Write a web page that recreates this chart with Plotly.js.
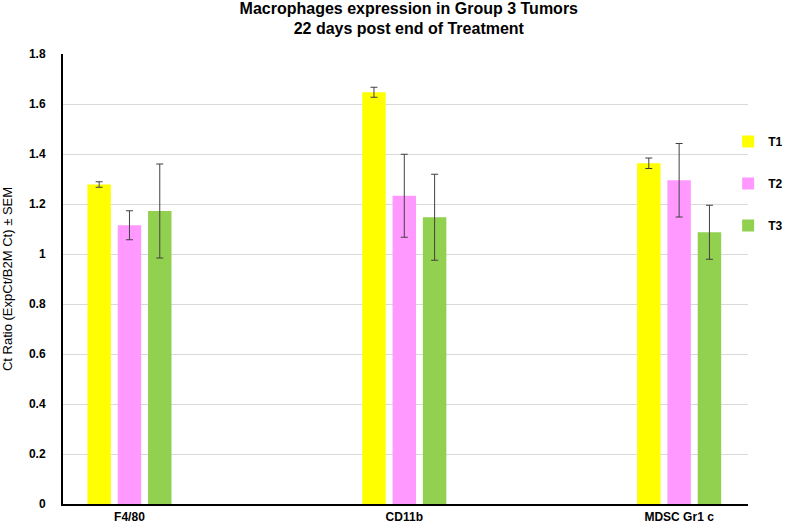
<!DOCTYPE html>
<html>
<head>
<meta charset="utf-8">
<script src="https://cdn.plot.ly/plotly-3.0.1.min.js"></script>
<style>html,body{margin:0;padding:0;background:#fff;}#chart{width:800px;height:524px;}</style>
</head>
<body>
<div id="chart"></div>
<script>
const categories = ["F4/80", "CD11b", "MDSC Gr1 c"];
const seriesNames = ["T1", "T2", "T3"];
const t1Values = [1.278, 1.647, 1.363];
const t1Errors = [0.011, 0.020, 0.021];
const t2Values = [1.115, 1.233, 1.295];
const t2Errors = [0.058, 0.166, 0.147];
const t3Values = [1.172, 1.147, 1.087];
const t3Errors = [0.188, 0.172, 0.108];
const yTickVals = [0, 0.2, 0.4, 0.6, 0.8, 1, 1.2, 1.4, 1.6, 1.8];
const yTickText = ["0", "0.2", "0.4", "0.6", "0.8", "1", "1.2", "1.4", "1.6", "1.8"];

const colors = ["#ffff00", "#ff99ff", "#92d050"];
const vals = [t1Values, t2Values, t3Values];
const errs = [t1Errors, t2Errors, t3Errors];

const traces = seriesNames.map((n, i) => ({
  type: "bar",
  name: n,
  legendgroup: n,
  x: categories,
  y: vals[i],
  marker: {color: colors[i], line: {width: 0}},
  error_y: {type: "data", array: errs[i], visible: true, color: "#404040", thickness: 1, width: 3.5},
  hoverinfo: "none"
}));

const layout = {
  width: 800, height: 524,
  margin: {l: 63, r: 36, t: 54, b: 20},
  paper_bgcolor: "#ffffff",
  plot_bgcolor: "#ffffff",
  font: {family: "Liberation Sans, Arial, sans-serif", color: "#000"},
  title: {
    text: "<b>Macrophages expression in Group 3 Tumors<br>22 days post end of Treatment</b>",
    font: {size: 16, color: "#000"},
    x: 0.511, xanchor: "center", y: 0.974, yanchor: "top"
  },
  barmode: "group",
  bargap: 0.669,
  bargroupgap: 0.226,
  xaxis: {
    type: "category",
    range: [-0.2418, 2.2506],
    showgrid: false,
    showline: true, linecolor: "#000", linewidth: 2,
    ticks: "",
    tickfont: {size: 12, color: "#000", weight: "bold"},
    ticklabelstandoff: 1,
    zeroline: false
  },
  yaxis: {
    range: [0, 1.8],
    tickvals: yTickVals,
    ticktext: yTickText,
    showgrid: true, gridcolor: "#d9d9d9", gridwidth: 1,
    showline: true, linecolor: "#000", linewidth: 2,
    ticks: "",
    ticklabelstandoff: 13,
    tickfont: {size: 12, color: "#000", weight: "bold"},
    zeroline: false,
    title: {text: "Ct Ratio (ExpCt/B2M Ct) \u00b1 SEM", font: {size: 13, color: "#000"}, standoff: 14}
  },
  legend: {
    x: 0.971, xanchor: "left", y: 0.838, yanchor: "top",
    xref: "paper", yref: "paper",
    traceorder: "grouped",
    tracegroupgap: 23,
    font: {size: 12, color: "#000", weight: "bold"},
    bgcolor: "rgba(0,0,0,0)",
    itemwidth: 30
  },
  showlegend: true
};

Plotly.newPlot("chart", traces, layout, {displayModeBar: false, staticPlot: true});
</script>
</body>
</html>
